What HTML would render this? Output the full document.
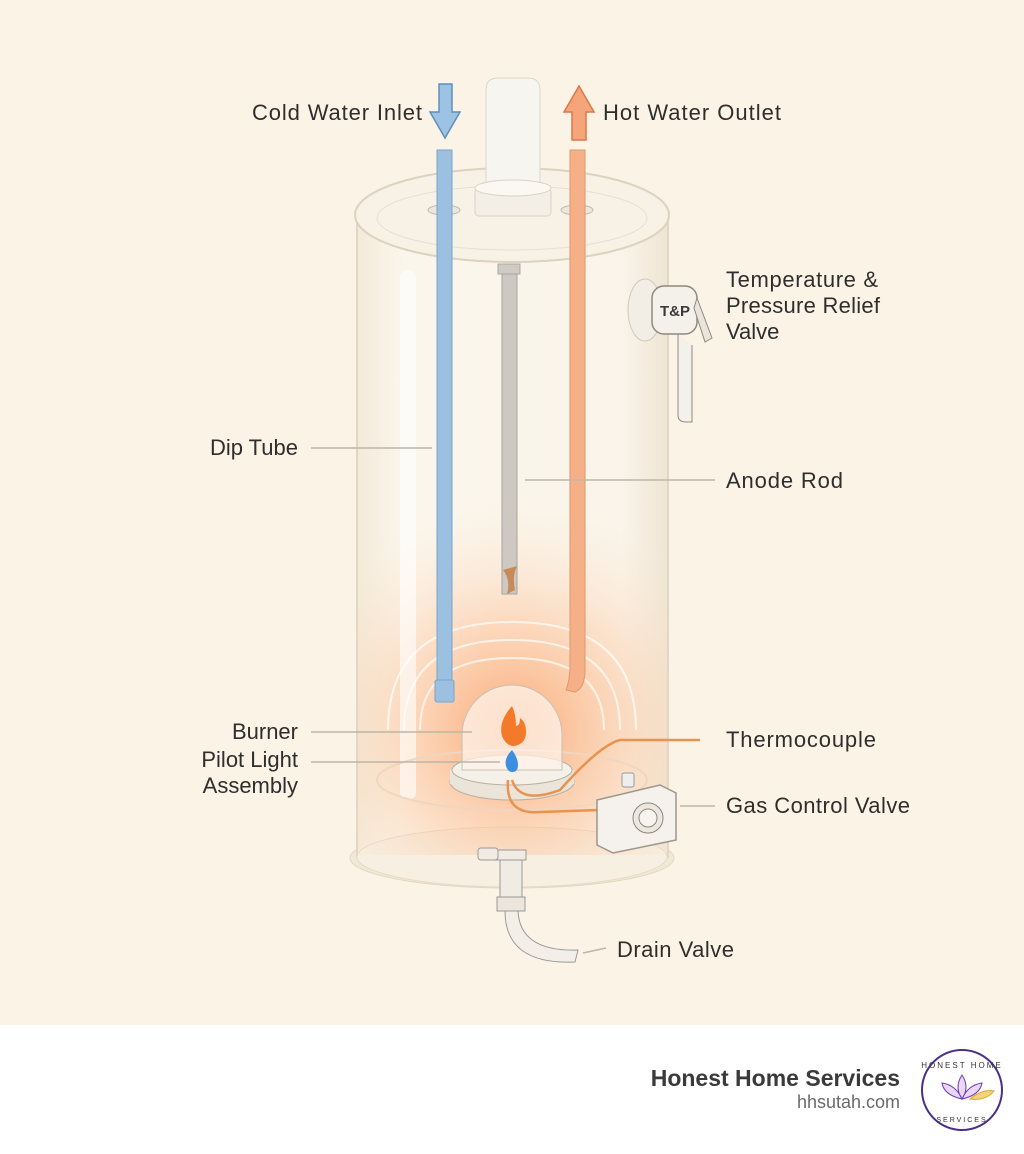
<!DOCTYPE html>
<html><head><meta charset="utf-8"><style>
html,body{margin:0;padding:0;width:1024px;height:1154px;overflow:hidden;background:#fff;font-family:"Liberation Sans",sans-serif}
</style></head><body>
<svg width="1024" height="1154" viewBox="0 0 1024 1154" xmlns="http://www.w3.org/2000/svg" font-family="Liberation Sans, sans-serif">
<defs>
<radialGradient id="glow" cx="512" cy="730" r="240" gradientUnits="userSpaceOnUse">
<stop offset="0" stop-color="#fb9a5e" stop-opacity="0.85"/>
<stop offset="0.45" stop-color="#fcc39a" stop-opacity="0.55"/>
<stop offset="1" stop-color="#fdf0e0" stop-opacity="0"/>
</radialGradient>
<linearGradient id="body" x1="0" x2="1">
<stop offset="0" stop-color="#f3ead9"/><stop offset="0.15" stop-color="#fbf6ec"/><stop offset="0.85" stop-color="#faf4ea"/><stop offset="1" stop-color="#efe5d3"/>
</linearGradient>
</defs>
<rect width="1024" height="1025" fill="#fbf4e6"/>
<rect y="1025" width="1024" height="129" fill="#fff"/>
<ellipse cx="512" cy="858" rx="162" ry="30" fill="#f2e8d6" stroke="#e2d6c2"/>
<rect x="357" y="212" width="311" height="645" fill="url(#body)" stroke="#e2d7c3" stroke-width="2"/>
<ellipse cx="512" cy="857" rx="155" ry="30" fill="#f7efe2" stroke="#e5dac7"/>
<rect x="358" y="300" width="309" height="555" fill="url(#glow)"/>
<rect x="400" y="270" width="16" height="530" rx="8" fill="#fff" opacity="0.6"/>
<g fill="none" stroke="#fff" stroke-width="2" opacity="0.7">
<path d="M388 730 Q388 622 512 622 Q636 622 636 730"/>
<path d="M404 730 Q404 640 512 640 Q620 640 620 730"/>
<path d="M420 730 Q420 658 512 658 Q604 658 604 730"/>
</g>
<ellipse cx="512" cy="780" rx="135" ry="30" fill="none" stroke="#f0d6c0" stroke-width="2"/>
<ellipse cx="512" cy="215" rx="157" ry="47" fill="#f7f1e6" stroke="#ddd2bf" stroke-width="2"/>
<ellipse cx="512" cy="218" rx="135" ry="32" fill="none" stroke="#e8dfcf"/>
<path d="M486 188 V90 Q486 78 498 78 H528 Q540 78 540 90 V188Z" fill="#f7f5f0" stroke="#dcd6cc"/>
<rect x="475" y="188" width="76" height="28" rx="4" fill="#f4efe6" stroke="#d9d2c6"/>
<ellipse cx="513" cy="188" rx="38" ry="8" fill="#fbf8f2" stroke="#d9d2c6"/>
<ellipse cx="444" cy="210" rx="16" ry="5" fill="#eee6d8" stroke="#bbb"/>
<rect x="437" y="150" width="15" height="550" fill="#9cc0df" stroke="#7aa5cb"/>
<rect x="435" y="680" width="19" height="22" rx="2" fill="#9cc0df" stroke="#7aa5cb"/>
<ellipse cx="577" cy="210" rx="16" ry="5" fill="#eee6d8" stroke="#bbb"/>
<path d="M570 150 H585 V670 Q585 688 575 692 L566 690 Q570 680 570 665 Z" fill="#f5b088" stroke="#e3966a"/>
<rect x="498" y="264" width="22" height="10" fill="#cfcbc4" stroke="#aaa"/>
<rect x="502" y="274" width="15" height="320" fill="#cdc9c2" stroke="#a9a49c"/>
<path d="M503 570 q8 10 4 24 l8 -4 q-3 -14 2 -24z" fill="#c98a5a"/>
<path d="M439 84 H452 V112 H460 L445 138 L430 112 H439Z" fill="#9cc3e3" stroke="#5e8fbc" stroke-width="1.5"/>
<path d="M572 140 V112 H564 L579 86 L594 112 H586 V140Z" fill="#f6a57a" stroke="#d9784a" stroke-width="1.5"/>
<ellipse cx="512" cy="782" rx="62" ry="18" fill="#ebe4d8" stroke="#b9b0a2"/>
<rect x="450" y="770" width="124" height="14" fill="#ebe4d8"/>
<ellipse cx="512" cy="770" rx="60" ry="15" fill="#f5f0e8" stroke="#b9b0a2"/>
<path d="M462 770 V735 A50 50 0 0 1 562 735 V770 Z" fill="#fdf3ea" fill-opacity="0.75" stroke="#c9bfb2"/>
<path d="M512 706 q-14 16 -10 30 q4 10 12 10 q12 -2 12 -14 q0 -10 -6 -14 q0 8 -4 8 q0 -12 -4 -20z" fill="#f37a2a"/>
<path d="M512 750 q-8 8 -6 16 q2 6 6 6 q6 0 6 -7 q0 -7 -6 -15z" fill="#3d8ee0"/>
<path d="M508 780 Q505 815 540 812 L600 810 M512 780 Q520 805 560 790 Q600 745 620 740 L700 740" fill="none" stroke="#e8934f" stroke-width="2.5"/>
<rect x="622" y="773" width="12" height="14" rx="2" fill="#eee" stroke="#999"/>
<path d="M597 800 L660 785 L676 793 V840 L613 853 L597 845Z" fill="#f5f2ed" stroke="#9c968d" stroke-width="1.5"/>
<circle cx="648" cy="818" r="15" fill="#ece7df" stroke="#8c867d"/>
<circle cx="648" cy="818" r="9" fill="#f7f4ef" stroke="#8c867d"/>
<ellipse cx="645" cy="310" rx="17" ry="31" fill="#f2ede5" stroke="#cfc8bc"/>
<rect x="652" y="286" width="45" height="48" rx="12" fill="#f4f0ea" stroke="#8f897f" stroke-width="1.5"/>
<text x="675" y="316" font-size="15" font-weight="bold" text-anchor="middle" fill="#3a3a3a">T&amp;P</text>
<path d="M697 298 L712 338 L705 342 L694 308Z" fill="#e9e4dc" stroke="#8f897f"/>
<path d="M678 334 V415 Q678 422 686 422 H692 V345" fill="#f4f0ea" stroke="#8f897f"/>
<rect x="488" y="850" width="38" height="10" fill="#f0ebe3" stroke="#999"/>
<rect x="478" y="848" width="20" height="12" rx="3" fill="#f0ebe3" stroke="#999"/>
<rect x="500" y="860" width="22" height="40" fill="#f0ebe3" stroke="#999"/>
<rect x="497" y="897" width="28" height="14" fill="#ebe5dc" stroke="#999"/>
<path d="M505 911 Q505 965 575 962 L578 950 Q520 952 518 911Z" fill="#f3efe8" stroke="#999"/>
<g stroke="#bdb5a8" stroke-width="1.5">
<line x1="311" y1="448" x2="432" y2="448"/>
<line x1="525" y1="480" x2="715" y2="480"/>
<line x1="311" y1="732" x2="472" y2="732"/>
<line x1="311" y1="762" x2="500" y2="762"/>
<line x1="680" y1="806" x2="715" y2="806"/>
<line x1="583" y1="953" x2="606" y2="948"/>
</g>
<g font-size="22" fill="#2e2e2e">
<text x="252" y="120" textLength="170">Cold Water Inlet</text>
<text x="603" y="120" textLength="178">Hot Water Outlet</text>
<text x="726" y="287" textLength="152">Temperature &amp;</text>
<text x="726" y="313" textLength="154">Pressure Relief</text>
<text x="726" y="339">Valve</text>
<text x="298" y="455" text-anchor="end">Dip Tube</text>
<text x="726" y="488" textLength="117">Anode Rod</text>
<text x="298" y="739" text-anchor="end">Burner</text>
<text x="298" y="767" text-anchor="end">Pilot Light</text>
<text x="298" y="793" text-anchor="end">Assembly</text>
<text x="726" y="747" textLength="150">Thermocouple</text>
<text x="726" y="813" textLength="184">Gas Control Valve</text>
<text x="617" y="957" textLength="117">Drain Valve</text>
</g>
<text x="900" y="1086" font-size="23" font-weight="bold" fill="#3a3a3a" text-anchor="end">Honest Home Services</text>
<text x="900" y="1108" font-size="18" fill="#6a6a6a" text-anchor="end">hhsutah.com</text>
<circle cx="962" cy="1090" r="40" fill="#fff" stroke="#4a2e8c" stroke-width="2"/>
<text x="962" y="1068" font-size="8" fill="#333" text-anchor="middle" letter-spacing="2">HONEST HOME</text>
<text x="962" y="1122" font-size="7" fill="#333" text-anchor="middle" letter-spacing="2">SERVICES</text>
<path d="M962 1075 q-8 12 0 24 q8 -12 0 -24z M962 1099 q-18 -4 -20 -16 q14 2 20 16z M962 1099 q18 -4 20 -16 q-14 2 -20 16z" fill="#e9d7f5" stroke="#6b3fb0"/>
<path d="M970 1099 q12 -10 24 -8 q-8 10 -24 8z" fill="#f5d37a" stroke="#d9a530"/>
</svg>
</body></html>
